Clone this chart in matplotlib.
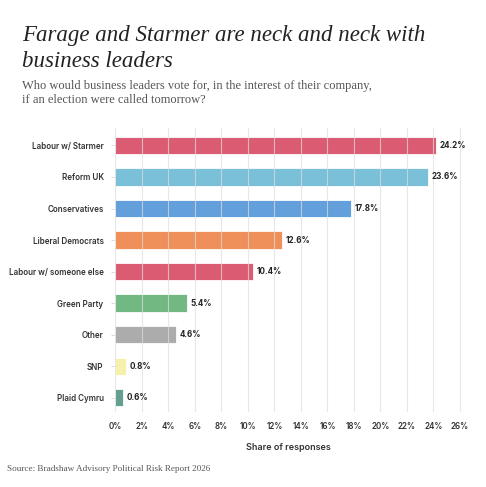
import matplotlib.pyplot as plt
import numpy as np

parties = ["Labour w/ Starmer", "Reform UK", "Conservatives", "Liberal Democrats",
           "Labour w/ someone else", "Green Party", "Other", "SNP", "Plaid Cymru"]
shares = [24.2, 23.6, 17.8, 12.6, 10.4, 5.4, 4.6, 0.8, 0.6]
colors = ["#d9536a", "#72bdd6", "#5b9ad9", "#ef8950", "#d9536a", "#6ab47c",
          "#a8a8a8", "#f6f1a6", "#5a9a88"]
xticks = list(range(0, 27, 2))

fig = plt.figure(figsize=(4.86, 4.87), dpi=100)
ax = fig.add_axes([0.236, 0.154, 0.713, 0.583])

y = np.arange(len(parties))
ax.barh(y, shares, height=0.55, color=colors, edgecolor="white", linewidth=0.6,
        alpha=0.95, zorder=2)
for yi, v in zip(y, shares):
    ax.text(v + 0.25, yi, f"{v}%", va="center", ha="left", fontsize=5.8,
            fontweight="bold", family="Inter", color="#222222")

ax.set_xlim(-0.05, 26.1)
ax.set_ylim(8.45, -0.55)
ax.set_xticks(xticks)
ax.set_xticklabels([f"{t}%" for t in xticks], fontsize=5.8, family="Inter",
                   fontweight="semibold", color="#333333")
ax.set_yticks(y)
ax.set_yticklabels(parties, fontsize=5.8, family="Inter", fontweight="semibold",
                   color="#333333")
ax.tick_params(axis="y", length=3, color="#dddddd", pad=5)
ax.tick_params(axis="x", length=0, pad=7)
ax.grid(axis="x", color="#dedede", linewidth=0.8, alpha=0.7, zorder=3)
ax.set_axisbelow(False)
for s in ax.spines.values():
    s.set_visible(False)
ax.set_xlabel("Share of responses", fontsize=6.5, family="Inter",
              fontweight="semibold", color="#333333", labelpad=9)

fig.text(0.045, 0.915, "Farage and Starmer are neck and neck with",
         fontsize=16.5, family="Liberation Serif", style="italic", color="#222222",
         va="baseline")
fig.text(0.045, 0.862, "business leaders",
         fontsize=16.5, family="Liberation Serif", style="italic", color="#222222",
         va="baseline")
fig.text(0.045, 0.818, "Who would business leaders vote for, in the interest of their company,",
         fontsize=9, family="Liberation Serif", color="#555555", va="baseline")
fig.text(0.045, 0.789, "if an election were called tomorrow?",
         fontsize=9, family="Liberation Serif", color="#555555", va="baseline")
fig.text(0.014, 0.032, "Source: Bradshaw Advisory Political Risk Report 2026",
         fontsize=6.6, family="Liberation Serif", color="#555555", va="baseline")

fig.savefig("out.png", dpi=100, facecolor="white")
